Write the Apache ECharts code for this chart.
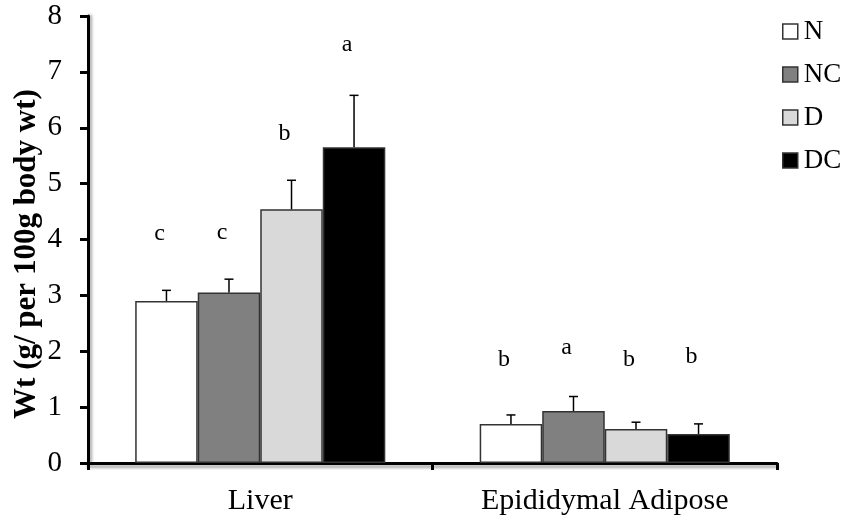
<!DOCTYPE html>
<html>
<head>
<meta charset="utf-8">
<script src="https://cdn.jsdelivr.net/npm/echarts@6/dist/echarts.min.js"></script>
<style>html,body{margin:0;padding:0;background:#fff}#c{width:847px;height:522px}</style>
</head>
<body>
<div id="c"></div>
<script>
const categories = ['Liver', 'Epididymal Adipose'];
const seriesNames = ['N', 'NC', 'D', 'DC'];
const values = {
  N:  [2.90, 0.70],
  NC: [3.05, 0.93],
  D:  [4.54, 0.61],
  DC: [5.65, 0.52]
};
const errors = {
  N:  [0.19, 0.16],
  NC: [0.24, 0.26],
  D:  [0.52, 0.12],
  DC: [0.93, 0.18]
};
const letters = {
  N:  ['c', 'b'],
  NC: ['c', 'a'],
  D:  ['b', 'b'],
  DC: ['a', 'b']
};
const letterY = {
  N:  [4.11, 1.84],
  NC: [4.13, 2.06],
  D:  [5.90, 1.84],
  DC: [7.48, 1.90]
};
const yTicks = [0, 1, 2, 3, 4, 5, 6, 7, 8];
const yTitle = 'Wt (g/ per 100g body wt)';

const colors = { N: '#ffffff', NC: '#808080', D: '#d9d9d9', DC: '#000000' };
const catGap = 0.274;
const font = 'Liberation Serif';

const chart = echarts.init(document.getElementById('c'));
const series = [];
seriesNames.forEach((name, i) => {
  series.push({
    name: name,
    type: 'bar',
    data: values[name],
    barGap: '0%',
    barCategoryGap: (catGap * 100) + '%',
    itemStyle: { color: colors[name], borderColor: '#333', borderWidth: 1.5 },
    emphasis: { disabled: true },
    z: 2
  });
});
seriesNames.forEach((name, i) => {
  series.push({
    type: 'custom',
    name: name + '_err',
    data: categories.map((c, k) => [k, values[name][k], errors[name][k], letterY[name][k]]),
    renderItem: function (params, api) {
      const k = api.value(0);
      const center = api.coord([k, 0])[0];
      const band = api.size([1, 0])[0];
      const barW = band * (1 - catGap) / 4;
      const x = center - 2 * barW + (i + 0.5) * barW;
      const yTop = api.coord([k, api.value(1)])[1];
      const yErr = api.coord([k, api.value(1) + api.value(2)])[1];
      const yL = api.coord([k, api.value(3)])[1];
      const st = { stroke: '#000', lineWidth: 1.5 };
      return {
        type: 'group',
        children: [
          { type: 'line', shape: { x1: x, y1: yTop, x2: x, y2: yErr }, style: st },
          { type: 'line', shape: { x1: x - 4.5, y1: yErr, x2: x + 4.5, y2: yErr }, style: st },
          { type: 'text', x: x - 7, y: yL, style: { text: letters[name][k], font: '24px "' + font + '"', fill: '#000', align: 'center', verticalAlign: 'middle' } }
        ]
      };
    },
    z: 3,
    silent: true
  });
});

chart.setOption({
  animation: false,
  backgroundColor: '#fff',
  grid: { left: 88, right: 70, top: 16, bottom: 59, containLabel: false, outerBoundsMode: 'none' },
  legend: {
    orient: 'vertical',
    left: 782,
    top: 18,
    padding: 0,
    itemWidth: 15,
    itemHeight: 15,
    itemGap: 16,
    icon: 'rect',
    data: seriesNames.map(n => ({ name: n, itemStyle: { color: colors[n], borderColor: '#333', borderWidth: 1.5 } })),
    textStyle: { fontFamily: font, fontSize: 27, color: '#000', padding: [0, 0, 0, 1] }
  },
  graphic: [{
    type: 'text',
    x: 27, y: 254,
    rotation: Math.PI / 2,
    style: { text: yTitle, font: 'bold 31px "' + font + '"', fill: '#000', align: 'center', verticalAlign: 'middle' }
  }],
  xAxis: {
    type: 'category',
    data: categories,
    axisLine: { lineStyle: { color: '#000', width: 3, shadowColor: 'rgba(0,0,0,0.35)', shadowBlur: 3, shadowOffsetY: 3 } },
    axisTick: { show: true, length: 7, lineStyle: { color: '#000', width: 3 } },
    axisLabel: { fontFamily: font, fontSize: 30, color: '#000', margin: 23 },
    splitLine: { show: false }
  },
  yAxis: {
    type: 'value',
    min: yTicks[0],
    max: yTicks[yTicks.length - 1],
    interval: 1,
    axisLine: { show: true, lineStyle: { color: '#000', width: 3, shadowColor: 'rgba(0,0,0,0.35)', shadowBlur: 3, shadowOffsetX: 2 } },
    axisTick: { show: true, length: 8, lineStyle: { color: '#000', width: 3 } },
    axisLabel: { fontFamily: font, fontSize: 29, color: '#000', margin: 26 },
    splitLine: { show: false }
  },
  series: series
});
</script>
</body>
</html>
